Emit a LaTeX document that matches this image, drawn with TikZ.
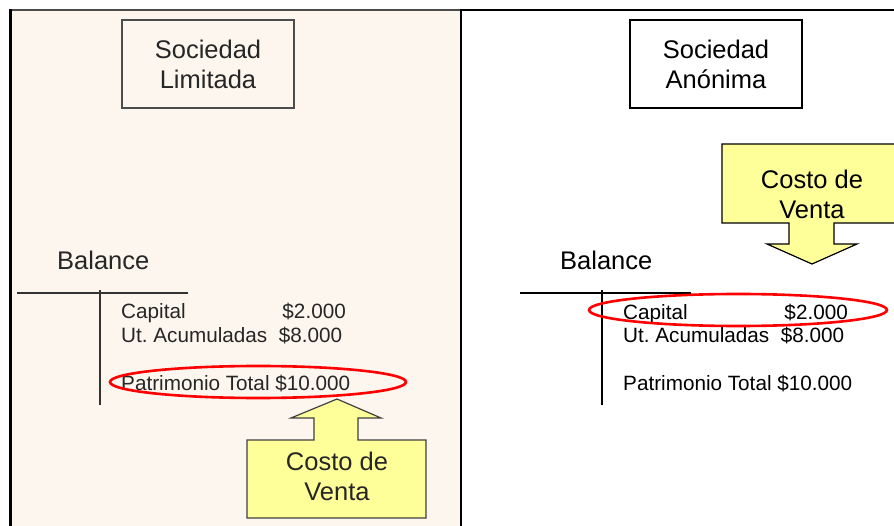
\documentclass[tikz,border=0pt]{standalone}
\usepackage{fontspec}
\setmainfont{Liberation Sans}
\usetikzlibrary{positioning}
\frenchspacing

\definecolor{peach}{RGB}{253,246,239}
\definecolor{notey}{RGB}{255,255,153}

\tikzset{
  titlebox/.style={draw, line width=1.2pt, minimum width=172pt, minimum height=88pt,
    align=center, font=\fontsize{25.5}{30}\selectfont},
  big/.style={inner sep=0pt, font=\fontsize{25.5}{30}\selectfont},
  entry/.style={anchor=base west, inner sep=0pt, font=\fontsize{20.7}{24}\selectfont},
  amount/.style={anchor=base east, inner sep=0pt, font=\fontsize{20.7}{24}\selectfont},
  ring/.style={draw=red, line width=2.6pt},
  callout/.style={draw, fill=notey, line width=1.2pt, line join=miter},
}

\begin{document}
\begin{tikzpicture}[x=1pt, y=-1pt]
  \useasboundingbox (0,0) rectangle (894,526);

  % two panels
  \fill[peach] (10,10) rectangle (461,526);
  \draw[black!70, line width=1.5pt] (10,10) -- (461,10);
  \draw[line width=3pt] (10,9) -- (10,526);
  \draw[line width=2pt] (461,526) -- (461,10) -- (894,10);

  % left: sociedad limitada
  \node[titlebox, draw=black!70, text=black!85] (ltd) at (208,64) {Sociedad\\Limitada};
  \node[big, anchor=base west, text=black!85] (bal_l) at (57,270) {Balance};
  \draw[line width=1.2pt, black!80] (17,293) -- (188,293);
  \draw[line width=1.2pt, black!80] (100,290) -- (100,405);
  \node[entry, text=black!85] (cap_l) at (121,319) {Capital};
  \node[amount, text=black!85] (capv_l) at (346,319) {\$2.000};
  \node[entry, text=black!85] (ut_l) at (121,343) {Ut. Acumuladas\ \ \$8.000};
  \node[entry, text=black!85] (tot_l) at (121,390) {Patrimonio Total \$10.000};
  \draw[ring] (258,382) ellipse [x radius=148, y radius=16];
  \draw[callout, draw=black!75] (337,399) -- (381,418) -- (358,418) -- (358,440)
    -- (426,440) -- (426,518) -- (247,518) -- (247,440) -- (314,440)
    -- (314,418) -- (291,418) -- cycle;
  \node[big, align=center, text=black!85] (cost_l) at (337,476) {Costo de\\Venta};

  % right: sociedad anonima
  \node[titlebox] (sa) at (716,64) {Sociedad\\Anónima};
  \draw[callout] (722,144) -- (900,144) -- (900,223) -- (834,223) -- (834,244)
    -- (857,244) -- (812,264) -- (767,244) -- (789,244) -- (789,223)
    -- (722,223) -- cycle;
  \node[big, align=center] (cost_r) at (812,194) {Costo de\\Venta};
  \node[big, anchor=base west] (bal_r) at (560,270) {Balance};
  \draw[line width=1.2pt] (520,293) -- (691,293);
  \draw[line width=1.2pt] (602,290) -- (602,405);
  \node[entry] (cap_r) at (623,320) {Capital};
  \node[amount] (capv_r) at (848,320) {\$2.000};
  \node[entry] (ut_r) at (623,343) {Ut. Acumuladas\ \ \$8.000};
  \node[entry] (tot_r) at (623,391) {Patrimonio Total \$10.000};
  \draw[ring] (738,310) ellipse [x radius=149, y radius=16];
\end{tikzpicture}
\end{document}
